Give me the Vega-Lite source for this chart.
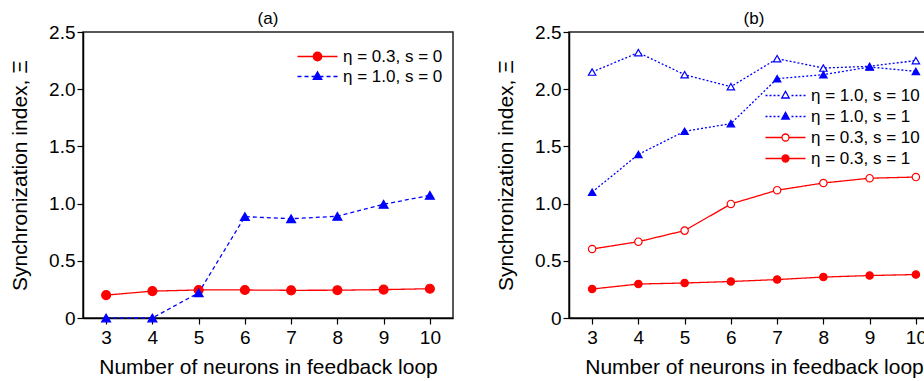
{
  "$schema": "https://vega.github.io/schema/vega-lite/v6.json",
  "padding": {"left": 8, "top": 9, "right": 0, "bottom": 0},
  "config": {
    "font": "Liberation Sans",
    "view": {"stroke": "#222222", "strokeWidth": 1.5},
    "axis": {"grid": false, "domainColor": "#000000", "domainWidth": 1.5, "tickColor": "#000000", "tickWidth": 1.2, "tickSize": 6, "labelFontSize": 19, "labelColor": "#000000", "titleFontSize": 21, "titleFontWeight": "normal", "titleColor": "#000000", "labelPadding": 2, "labelFont": "Liberation Sans", "titleFont": "Liberation Sans"},
    "title": {"fontSize": 17, "fontWeight": "normal", "font": "Liberation Sans", "color": "#000000", "offset": -5},
    "legend": {"labelFontSize": 17, "labelFont": "Liberation Sans", "labelColor": "#000000", "symbolStrokeWidth": 1.3, "symbolOpacity": 1},
    "concat": {"spacing": 40}
  },
  "resolve": {"scale": {"x": "independent", "y": "independent", "shape": "independent", "fill": "independent", "stroke": "independent", "strokeDash": "independent"}, "legend": {"shape": "independent", "fill": "independent", "stroke": "independent", "strokeDash": "independent"}},
  "hconcat": [
    {
      "width": 370, "height": 286,
      "title": "(a)",
      "data": {"values": [
        {"n": 3, "v": 0.20, "series": "η = 0.3, s = 0"},
        {"n": 4, "v": 0.235, "series": "η = 0.3, s = 0"},
        {"n": 5, "v": 0.245, "series": "η = 0.3, s = 0"},
        {"n": 6, "v": 0.245, "series": "η = 0.3, s = 0"},
        {"n": 7, "v": 0.242, "series": "η = 0.3, s = 0"},
        {"n": 8, "v": 0.243, "series": "η = 0.3, s = 0"},
        {"n": 9, "v": 0.248, "series": "η = 0.3, s = 0"},
        {"n": 10, "v": 0.256, "series": "η = 0.3, s = 0"},
        {"n": 3, "v": 0.0, "series": "η = 1.0, s = 0"},
        {"n": 4, "v": 0.0, "series": "η = 1.0, s = 0"},
        {"n": 5, "v": 0.22, "series": "η = 1.0, s = 0"},
        {"n": 6, "v": 0.886, "series": "η = 1.0, s = 0"},
        {"n": 7, "v": 0.868, "series": "η = 1.0, s = 0"},
        {"n": 8, "v": 0.889, "series": "η = 1.0, s = 0"},
        {"n": 9, "v": 0.994, "series": "η = 1.0, s = 0"},
        {"n": 10, "v": 1.072, "series": "η = 1.0, s = 0"}
      ]},
      "encoding": {
        "x": {"field": "n", "type": "quantitative", "scale": {"domain": [2.5, 10.5], "nice": false, "zero": false}, "axis": {"values": [3, 4, 5, 6, 7, 8, 9, 10], "title": "Number of neurons in feedback loop", "labelPadding": 4, "titlePadding": 9}},
        "y": {"field": "v", "type": "quantitative", "scale": {"domain": [0, 2.5], "nice": false}, "axis": {"values": [0, 0.5, 1, 1.5, 2, 2.5], "labelExpr": "datum.value == 0 ? '0' : format(datum.value, '.1f')", "title": "Synchronization index, Ξ", "titlePadding": 18}}
      },
      "resolve": {"scale": {"shape": "independent", "fill": "independent", "stroke": "independent", "strokeDash": "independent"}, "legend": {"shape": "independent", "fill": "independent", "stroke": "independent", "strokeDash": "independent"}},
      "layer": [
        {
          "mark": {"type": "line", "strokeWidth": 1.3},
          "encoding": {
            "stroke": {"field": "series", "type": "nominal", "scale": {"domain": ["η = 1.0, s = 0", "η = 0.3, s = 0"], "range": ["#0000ff", "#ff0000"]}, "legend": null},
            "strokeDash": {"field": "series", "type": "nominal", "scale": {"domain": ["η = 1.0, s = 0", "η = 0.3, s = 0"], "range": [[4, 3], [1, 0]]}, "legend": null}
          }
        },
        {
          "mark": {"type": "point", "size": 80, "strokeWidth": 1.2, "opacity": 1},
          "encoding": {
            "stroke": {"field": "series", "type": "nominal", "scale": {"domain": ["η = 1.0, s = 0", "η = 0.3, s = 0"], "range": ["#0000ff", "#ff0000"]}, "legend": null},
            "fill": {"field": "series", "type": "nominal", "scale": {"domain": ["η = 1.0, s = 0", "η = 0.3, s = 0"], "range": ["#0000ff", "#ff0000"]}, "legend": null},
            "shape": {"field": "series", "type": "nominal", "scale": {"domain": ["η = 1.0, s = 0", "η = 0.3, s = 0"], "range": ["triangle-up", "circle"]}, "legend": null}
          }
        },
        {
          "transform": [{"filter": "false"}],
          "mark": {"type": "point", "size": 100, "strokeWidth": 1.3, "opacity": 1},
          "encoding": {
            "stroke": {"field": "series", "type": "nominal", "scale": {"domain": ["η = 0.3, s = 0", "η = 1.0, s = 0"], "range": ["#ff0000", "#0000ff"]}},
            "fill": {"field": "series", "type": "nominal", "scale": {"domain": ["η = 0.3, s = 0", "η = 1.0, s = 0"], "range": ["#ff0000", "#0000ff"]}},
            "shape": {"field": "series", "type": "nominal", "scale": {"domain": ["η = 0.3, s = 0", "η = 1.0, s = 0"], "range": ["M-4,0L4,0M0.85,0A0.85,0.85,0,1,1,-0.85,0A0.85,0.85,0,1,1,0.85,0Z", "M-4,0L-3.2,0M-2.6,0L-1.8,0M-1.2,0L-0.6,0M0.6,0L1.2,0M1.8,0L2.6,0M3.2,0L4,0M0,-0.95L0.85,0.55L-0.85,0.55Z"]},
              "legend": {"title": null, "orient": "none", "legendX": 226, "legendY": 16, "symbolSize": 100, "labelOffset": 17, "rowPadding": 2}}
          }
        }
      ]
    },
    {
      "width": 370, "height": 286,
      "title": "(b)",
      "data": {"values": [
        {"n": 3, "v": 2.15, "series": "η = 1.0, s = 10"},
        {"n": 4, "v": 2.32, "series": "η = 1.0, s = 10"},
        {"n": 5, "v": 2.127, "series": "η = 1.0, s = 10"},
        {"n": 6, "v": 2.022, "series": "η = 1.0, s = 10"},
        {"n": 7, "v": 2.267, "series": "η = 1.0, s = 10"},
        {"n": 8, "v": 2.185, "series": "η = 1.0, s = 10"},
        {"n": 9, "v": 2.2, "series": "η = 1.0, s = 10"},
        {"n": 10, "v": 2.25, "series": "η = 1.0, s = 10"},
        {"n": 3, "v": 1.10, "series": "η = 1.0, s = 1"},
        {"n": 4, "v": 1.43, "series": "η = 1.0, s = 1"},
        {"n": 5, "v": 1.632, "series": "η = 1.0, s = 1"},
        {"n": 6, "v": 1.699, "series": "η = 1.0, s = 1"},
        {"n": 7, "v": 2.092, "series": "η = 1.0, s = 1"},
        {"n": 8, "v": 2.127, "series": "η = 1.0, s = 1"},
        {"n": 9, "v": 2.194, "series": "η = 1.0, s = 1"},
        {"n": 10, "v": 2.156, "series": "η = 1.0, s = 1"},
        {"n": 3, "v": 0.603, "series": "η = 0.3, s = 10"},
        {"n": 4, "v": 0.667, "series": "η = 0.3, s = 10"},
        {"n": 5, "v": 0.764, "series": "η = 0.3, s = 10"},
        {"n": 6, "v": 0.997, "series": "η = 0.3, s = 10"},
        {"n": 7, "v": 1.117, "series": "η = 0.3, s = 10"},
        {"n": 8, "v": 1.18, "series": "η = 0.3, s = 10"},
        {"n": 9, "v": 1.222, "series": "η = 0.3, s = 10"},
        {"n": 10, "v": 1.232, "series": "η = 0.3, s = 10"},
        {"n": 3, "v": 0.253, "series": "η = 0.3, s = 1"},
        {"n": 4, "v": 0.297, "series": "η = 0.3, s = 1"},
        {"n": 5, "v": 0.306, "series": "η = 0.3, s = 1"},
        {"n": 6, "v": 0.319, "series": "η = 0.3, s = 1"},
        {"n": 7, "v": 0.336, "series": "η = 0.3, s = 1"},
        {"n": 8, "v": 0.358, "series": "η = 0.3, s = 1"},
        {"n": 9, "v": 0.371, "series": "η = 0.3, s = 1"},
        {"n": 10, "v": 0.38, "series": "η = 0.3, s = 1"}
      ]},
      "encoding": {
        "x": {"field": "n", "type": "quantitative", "scale": {"domain": [2.5, 10.5], "nice": false, "zero": false}, "axis": {"values": [3, 4, 5, 6, 7, 8, 9, 10], "title": "Number of neurons in feedback loop", "labelPadding": 4, "titlePadding": 9}},
        "y": {"field": "v", "type": "quantitative", "scale": {"domain": [0, 2.5], "nice": false}, "axis": {"values": [0, 0.5, 1, 1.5, 2, 2.5], "labelExpr": "datum.value == 0 ? '0' : format(datum.value, '.1f')", "title": "Synchronization index, Ξ", "titlePadding": 18}}
      },
      "resolve": {"scale": {"shape": "independent", "fill": "independent", "stroke": "independent", "strokeDash": "independent"}, "legend": {"shape": "independent", "fill": "independent", "stroke": "independent", "strokeDash": "independent"}},
      "layer": [
        {
          "mark": {"type": "line", "strokeWidth": 1.3},
          "encoding": {
            "stroke": {"field": "series", "type": "nominal", "scale": {"domain": ["η = 0.3, s = 1", "η = 0.3, s = 10", "η = 1.0, s = 1", "η = 1.0, s = 10"], "range": ["#ff0000", "#ff0000", "#0000ff", "#0000ff"]}, "legend": null},
            "strokeDash": {"field": "series", "type": "nominal", "scale": {"domain": ["η = 0.3, s = 1", "η = 0.3, s = 10", "η = 1.0, s = 1", "η = 1.0, s = 10"], "range": [[1, 0], [1, 0], [2, 2], [2, 2]]}, "legend": null}
          }
        },
        {
          "mark": {"type": "point", "size": 55, "strokeWidth": 1.2, "opacity": 1},
          "encoding": {
            "stroke": {"field": "series", "type": "nominal", "scale": {"domain": ["η = 0.3, s = 1", "η = 0.3, s = 10", "η = 1.0, s = 1", "η = 1.0, s = 10"], "range": ["#ff0000", "#ff0000", "#0000ff", "#0000ff"]}, "legend": null},
            "fill": {"field": "series", "type": "nominal", "scale": {"domain": ["η = 0.3, s = 1", "η = 0.3, s = 10", "η = 1.0, s = 1", "η = 1.0, s = 10"], "range": ["#ff0000", "#ffffff", "#0000ff", "#ffffff"]}, "legend": null},
            "shape": {"field": "series", "type": "nominal", "scale": {"domain": ["η = 0.3, s = 1", "η = 0.3, s = 10", "η = 1.0, s = 1", "η = 1.0, s = 10"], "range": ["circle", "circle", "triangle-up", "triangle-up"]}, "legend": null}
          }
        },
        {
          "transform": [{"filter": "false"}],
          "mark": {"type": "point", "size": 100, "strokeWidth": 1.3, "opacity": 1},
          "encoding": {
            "stroke": {"field": "series", "type": "nominal", "scale": {"domain": ["η = 1.0, s = 10", "η = 1.0, s = 1", "η = 0.3, s = 10", "η = 0.3, s = 1"], "range": ["#0000ff", "#0000ff", "#ff0000", "#ff0000"]}},
            "fill": {"field": "series", "type": "nominal", "scale": {"domain": ["η = 1.0, s = 10", "η = 1.0, s = 1", "η = 0.3, s = 10", "η = 0.3, s = 1"], "range": ["#ffffff", "#0000ff", "#ffffff", "#ff0000"]}},
            "shape": {"field": "series", "type": "nominal", "scale": {"domain": ["η = 1.0, s = 10", "η = 1.0, s = 1", "η = 0.3, s = 10", "η = 0.3, s = 1"], "range": [
              "M-4,0L-3.6,0M-3.2,0L-2.8,0M-2.4,0L-2,0M-1.6,0L-1.2,0M1.2,0L1.6,0M2,0L2.4,0M2.8,0L3.2,0M3.6,0L4,0M0,-0.85L0.75,0.5L-0.75,0.5Z",
              "M-4,0L-3.6,0M-3.2,0L-2.8,0M-2.4,0L-2,0M-1.6,0L-1.2,0M1.2,0L1.6,0M2,0L2.4,0M2.8,0L3.2,0M3.6,0L4,0M0,-0.85L0.75,0.5L-0.75,0.5Z",
              "M-4,0L-0.7,0M0.7,0L4,0M0.7,0A0.7,0.7,0,1,1,-0.7,0A0.7,0.7,0,1,1,0.7,0Z",
              "M-4,0L4,0M0.7,0A0.7,0.7,0,1,1,-0.7,0A0.7,0.7,0,1,1,0.7,0Z"]},
              "legend": {"title": null, "orient": "none", "legendX": 208, "legendY": 55, "symbolSize": 100, "labelOffset": 17, "rowPadding": 3}}
          }
        }
      ]
    }
  ]
}
